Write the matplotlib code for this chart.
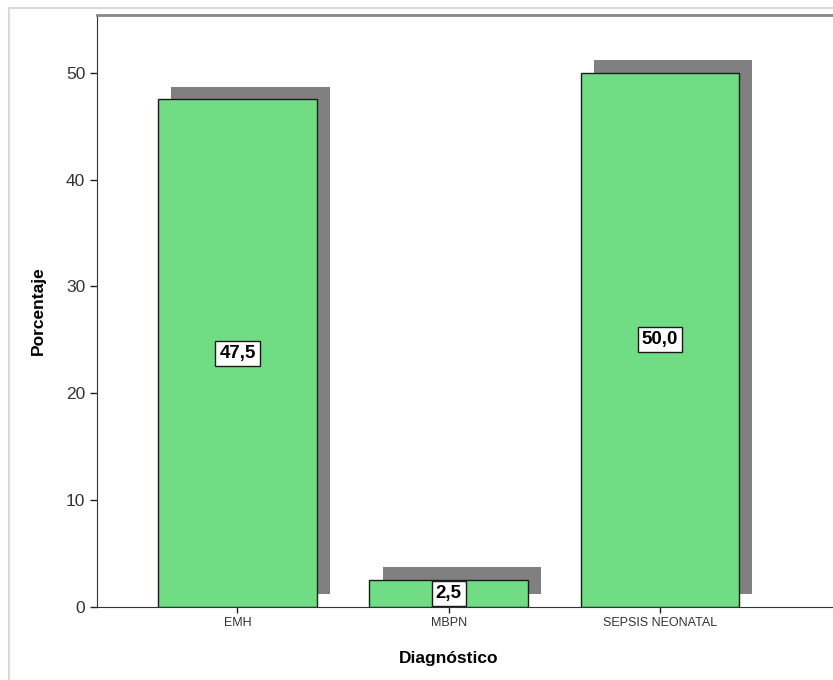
import matplotlib
matplotlib.use('Agg')
import matplotlib.pyplot as plt
from matplotlib.patches import Rectangle

categorias = ['EMH', 'MBPN', 'SEPSIS NEONATAL']
porcentajes = [47.5, 2.5, 50.0]
etiquetas = ['47,5', '2,5', '50,0']

plt.rcParams['font.family'] = ['Liberation Sans', 'DejaVu Sans']

fig = plt.figure(figsize=(8.33, 6.8), dpi=100)
W, H = 833, 680

# marco exterior gris claro
fig.patches.append(Rectangle((9 / W, -0.1), 1.2, (680 - 8) / H + 0.1,
                             transform=fig.transFigure, facecolor='none',
                             edgecolor='#d9d9d9', linewidth=1.5))

ax = fig.add_axes([97 / W, (H - 607) / H, (850 - 97) / W, (607 - 15) / H])
ax.set_xlim(-0.665, 2.9)
ax.set_ylim(0, 55.4)

x = list(range(len(categorias)))
ancho = 0.75
# sombras
ax.bar([i + 0.062 for i in x], porcentajes, width=ancho, bottom=1.2,
       color='#808080', edgecolor='none', zorder=1)
ax.bar(x, porcentajes, width=ancho, color='#70dc84', edgecolor='#1a1a1a',
       linewidth=1.0, zorder=2)

for i, v, t in zip(x, porcentajes, etiquetas):
    ax.text(i, v / 2, t, ha='center', va='center', fontsize=13.5,
            fontweight='bold', zorder=3,
            bbox=dict(boxstyle='square,pad=0.22', facecolor='white',
                      edgecolor='#1a1a1a', linewidth=1.0))

ax.set_xticks(x)
ax.set_xticklabels(categorias, fontsize=9)
ax.set_yticks(range(0, 51, 10))
ax.tick_params(axis='y', labelsize=12.5, length=5, width=1, colors='#222222')
ax.tick_params(axis='x', length=4, width=1, colors='#222222')
for lab in ax.get_yticklabels() + ax.get_xticklabels():
    lab.set_color('#333333')

ax.spines['top'].set_color('#888888')
ax.spines['top'].set_linewidth(2)
ax.spines['right'].set_visible(False)
ax.spines['left'].set_color('#333333')
ax.spines['bottom'].set_color('#333333')

ax.set_ylabel('Porcentaje', fontsize=12.5, fontweight='bold')
ax.yaxis.set_label_coords(-(97 - 46) / (850 - 97), 0.5)
ax.set_xlabel('Diagnóstico', fontsize=12.5, fontweight='bold')
ax.xaxis.set_label_coords((449 - 97) / (850 - 97), -(651 - 607) / (607 - 15))

fig.savefig('out.png', dpi=100)
